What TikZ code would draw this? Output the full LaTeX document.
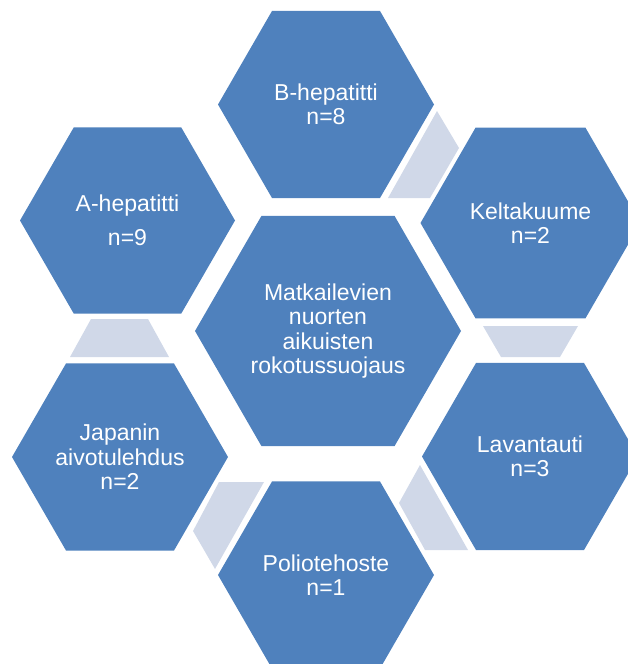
\documentclass[tikz,border=0pt]{standalone}
\usepackage{fontspec}
\setmainfont{Liberation Sans}
\usepackage{tikz}
\usetikzlibrary{shapes.geometric}
\definecolor{hexblue}{HTML}{4F81BD}
\definecolor{linkgray}{HTML}{D0D8E8}

\begin{document}
\begin{tikzpicture}[x=1pt, y=-1pt]
	\tikzstyle{hexc}=[regular polygon, regular polygon sides=6, fill=hexblue, inner sep=0pt, text=white, align=center, font=\fontsize{23}{24.5}\selectfont]
	\tikzstyle{linkc}=[fill=linkgray]
	\useasboundingbox (0,0) rectangle (628,664);
	
	\node (centre) at (328,331) [hexc, minimum size=266pt] {Matkailevien\\nuorten\\aikuisten\\rokotussuojaus};
	\node (bhep) at (326,104.5) [hexc, minimum size=216pt] {B-hepatitti\\n=8};
	\node (kelta) at (530.5,223) [hexc, minimum size=220pt] {Keltakuume\\n=2};
	\node (lavan) at (530,456.5) [hexc, minimum size=216pt] {Lavantauti\\n=3};
	\node (polio) at (326,575) [hexc, minimum size=216pt] {Poliotehoste\\n=1};
	\node (japan) at (120,457) [hexc, minimum size=216pt] {Japanin\\aivotulehdus\\n=2};
	\node (ahep) at (127.5,220.5) [hexc, minimum size=215pt] {A-hepatitti\\[9.5pt]n=9};
	
	% links between neighbours
	\fill[linkc] (437,111) -- (459,148) -- (430,198) -- (388,198) -- cycle;
	\fill[linkc] (483,326) -- (578,326) -- (560,357) -- (501,357) -- cycle;
	\fill[linkc] (420,465) -- (399,503) -- (425,550) -- (468,550) -- cycle;
	\fill[linkc] (219,482) -- (264,482) -- (215,569) -- (193,531) -- cycle;
	\fill[linkc] (91,319) -- (148,319) -- (169,357) -- (70,357) -- cycle;
\end{tikzpicture}
\end{document}
